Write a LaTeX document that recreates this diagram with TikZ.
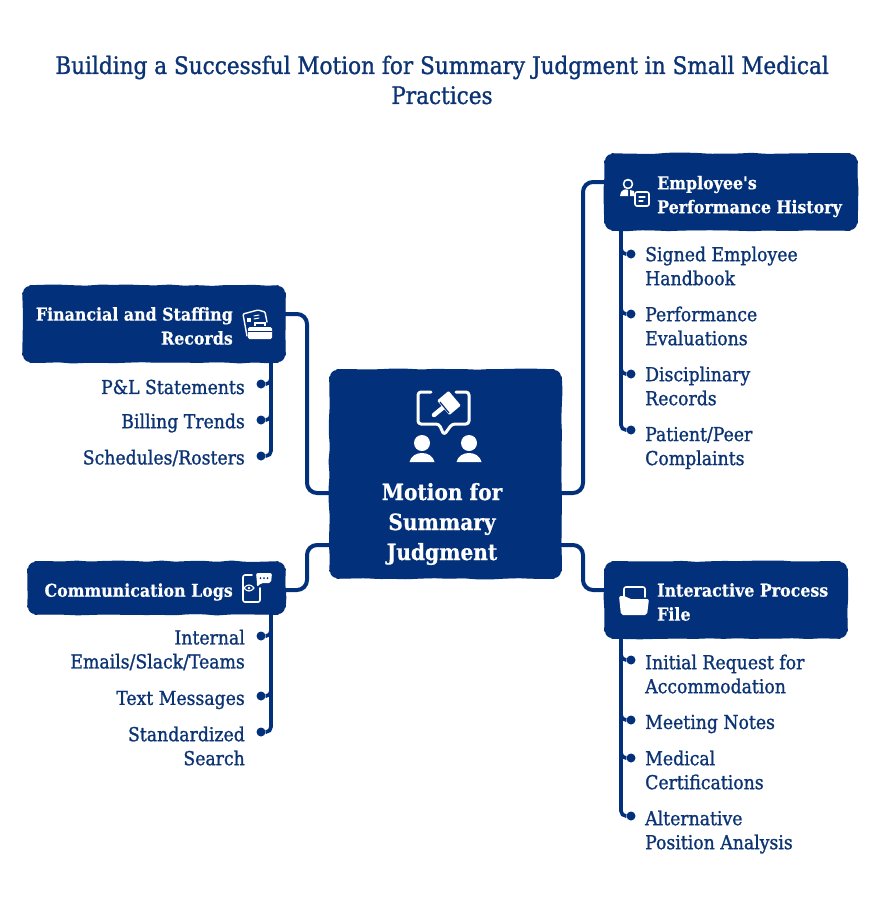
\documentclass[tikz,border=0pt]{standalone}
\usepackage{fontspec}
\usetikzlibrary{calc,decorations.pathmorphing}
\newfontfamily\df[FakeBold=1.2]{DejaVu Serif Condensed}
\newfontfamily\dfb[FakeBold=0.6]{DejaVu Serif Condensed Bold}
\definecolor{navy}{HTML}{02307A}
\definecolor{ink}{HTML}{0C3474}
\tikzset{
  x=1pt,y=-1pt,
  box/.style={inner sep=0pt,outer sep=0pt,rounded corners=7pt,fill=navy},
  wob/.style={draw=navy,line width=1.6pt,line cap=round,rounded corners=2pt,decorate,decoration={random steps,segment length=14pt,amplitude=.7pt}},
  head/.style={font=\dfb\fontsize{17.6}{24}\selectfont,text=white,inner sep=0pt},
  leafl/.style={font=\df\fontsize{19.2}{24}\selectfont,text=ink,inner sep=0pt,anchor=west,align=left},
  leafr/.style={font=\df\fontsize{19.2}{24}\selectfont,text=ink,inner sep=0pt,anchor=east,align=right},
  conn/.style={draw=navy,line width=4pt,rounded corners=10pt},
  spine/.style={draw=navy,line width=3.6pt,rounded corners=5pt},
  dotn/.style={circle,fill=navy,inner sep=0pt,minimum size=9pt},
  ic/.style={draw=white,line width=1.6pt,line cap=round,line join=round},
}
\begin{document}
\begin{tikzpicture}
\pgfmathsetseed{7}
\useasboundingbox (0,0) rectangle (883,900);
\node[font=\df\fontsize{24}{30}\selectfont,text=ink,align=center,inner sep=0pt] (title) at (442,80)
  {Building a Successful Motion for Summary Judgment in Small Medical\\Practices};

\node[box,minimum width=231pt,minimum height=208pt] (ctr) at (445.5,474) {};
\node[box,minimum width=252pt,minimum height=76pt] (emp) at (731,192) {};
\node[box,minimum width=262pt,minimum height=76pt] (fin) at (154,324) {};
\node[box,minimum width=257pt,minimum height=52pt] (com) at (156.5,588) {};
\node[box,minimum width=242pt,minimum height=76pt] (ipf) at (726,600) {};

\foreach \n in {ctr,emp,fin,com,ipf}{
  \draw[wob] ($(\n.north west)+(7,0)$) -- ($(\n.north east)+(-7,0)$);
  \draw[wob] ($(\n.south west)+(7,0)$) -- ($(\n.south east)+(-7,0)$);
  \draw[wob] ($(\n.north west)+(0,7)$) -- ($(\n.south west)+(0,-7)$);
  \draw[wob] ($(\n.north east)+(0,7)$) -- ($(\n.south east)+(0,-7)$);
}

\node[font=\dfb\fontsize{22.4}{30}\selectfont,text=white,align=center,inner sep=0pt] (ctrt) at (442,524) {Motion for\\Summary\\Judgment};
\node[head,anchor=west,align=left] (empt) at (657,196.5) {Employee's\\Performance History};
\node[head,anchor=east,align=right] (fint) at (233,326) {Financial and Staffing\\Records};
\node[head,anchor=east,align=right] (comt) at (233,592) {Communication Logs};
\node[head,anchor=west,align=left] (ipft) at (657,602) {Interactive Process\\File};

% main connectors
\draw[conn] ($(ctr.east)+(0,19)$) -- ++(22,0) |- ($(emp.west)+(0,-10)$);
\draw[conn] ($(ctr.east)+(0,71)$) -- ++(22,0) |- ($(ipf.west)+(0,-10)$);
\draw[conn] ($(fin.east)+(0,-10)$) -- ++(22,0) |- ($(ctr.west)+(0,19)$);
\draw[conn] ($(com.east)+(0,2)$) -- ++(22,0) |- ($(ctr.west)+(0,71)$);

% leaves
\node[leafl] (e1) at (645,266) {Signed Employee\\Handbook};
\node[leafl] (e2) at (645,326) {Performance\\Evaluations};
\node[leafl] (e3) at (645,386) {Disciplinary\\Records};
\node[leafl] (e4) at (645,448) {Patient/Peer\\Complaints};
\node[leafl] (i1) at (645,674) {Initial Request for\\Accommodation};
\node[leafl] (i2) at (645,724) {Meeting Notes};
\node[leafl] (i3) at (645,770) {Medical\\Certifications};
\node[leafl] (i4) at (645,832) {Alternative\\Position Analysis};
\node[leafr] (f1) at (245,387) {P\&L Statements};
\node[leafr] (f2) at (245,423) {Billing Trends};
\node[leafr] (f3) at (245,458) {Schedules/Rosters};
\node[leafr] (c1) at (245,650) {Internal\\Emails/Slack/Teams};
\node[leafr] (c2) at (245,700) {Text Messages};
\node[leafr] (c3) at (245,746) {Standardized\\Search};

% dots
\node[dotn] (de1) at (631,254) {};
\node[dotn] (de2) at (631,314) {};
\node[dotn] (de3) at (631,374) {};
\node[dotn] (de4) at (631,430) {};
\node[dotn] (di1) at (631,660) {};
\node[dotn] (di2) at (631,720) {};
\node[dotn] (di3) at (631,758) {};
\node[dotn] (di4) at (631,816) {};
\node[dotn] (df1) at (261,384) {};
\node[dotn] (df2) at (261,420) {};
\node[dotn] (df3) at (261,456) {};
\node[dotn] (dc1) at (261,636) {};
\node[dotn] (dc2) at (261,696) {};
\node[dotn] (dc3) at (261,732) {};

\foreach \d in {de1,de2,de3,de4} \draw[spine] ($(emp.south west)+(16,0)$) |- (\d);
\foreach \d in {di1,di2,di3,di4} \draw[spine] ($(ipf.south west)+(16,0)$) |- (\d);
\foreach \d in {df1,df2,df3} \draw[spine] ($(fin.south east)+(-14,0)$) |- (\d);
\foreach \d in {dc1,dc2,dc3} \draw[spine] ($(com.south east)+(-14,0)$) |- (\d);

% centre icon
\draw[ic,line width=3pt,rounded corners=3pt] (431,392) -- (418,392) -- (418,424) -- (439,424) -- (444,435) -- (452,424) -- (469,424) -- (469,392) -- (456,392);
\begin{scope}[shift={(449,403)},rotate=40]
 \fill[white,rounded corners=1pt] (-7.5,-9.5) rectangle (7.5,9.5);
\end{scope}
\draw[white,line width=4.5pt,line cap=round] (434,415) -- (445,406);
\draw[navy,line width=1.2pt] (440,402) -- (449,413);
\foreach \h in {422,469}{
  \fill[white] (\h,443) circle (8);
  \fill[white] (\h-12.5,462) .. controls (\h-10,450) and (\h+10,450) .. (\h+12.5,462) -- cycle;
}
% employee icon
\draw[ic] (628,184) circle (4.5);
\fill[white] (628,180) circle (1.2);
\fill[white] (620,196) .. controls (620,190) and (626,188) .. (628,190) -- (628,196) -- cycle;
\fill[white] (630,196) -- (630,190) -- (634,191) -- (634,196) -- cycle;
\draw[ic,rounded corners=2pt] (635,192) rectangle (649,206);
\draw[ic,line width=1.2pt] (639,197) -- (645,197) (639,201) -- (643,201);
% financial icon
\draw[ic,line width=1.4pt,rounded corners=1pt] (247,336) -- (243,314) -- (258,310) -- (265,312) -- (267,322);
\fill[white] (247,318) rectangle (251,322);
\draw[ic,line width=1pt] (254,316) -- (259,315) (254,319) -- (259,318);
\fill[white,rounded corners=1.5pt] (248,327) rectangle (272,339);
\draw[white,line width=1.3pt] (255,326) -- (255,323) -- (265,323) -- (265,326);
\draw[navy,line width=1pt] (248,331) -- (272,331);
% comm icon
\draw[ic,rounded corners=2pt] (252,575) -- (243,575) -- (243,602) -- (260,602) -- (260,588);
\draw[ic,line width=1.2pt] (244,588) .. controls (247,584) and (251,584) .. (254,588) .. controls (251,592) and (247,592) .. (244,588) -- cycle;
\fill[white] (249,588) circle (1.5);
\fill[white,rounded corners=2pt] (256,573) -- (272,573) -- (271,583) -- (261,583) -- (257,587) -- (257,583) -- cycle;
\foreach \x in {260.5,264,267.5} \fill[navy] (\x,578) circle (1);
% folder icon
\draw[ic,rounded corners=2pt] (624,597) -- (624,587) -- (645,587) -- (645,597);
\fill[white,rounded corners=2pt] (619,596) -- (626,596) -- (629,599) -- (649,599) -- (647,615) -- (621,615) -- cycle;
\end{tikzpicture}
\end{document}
